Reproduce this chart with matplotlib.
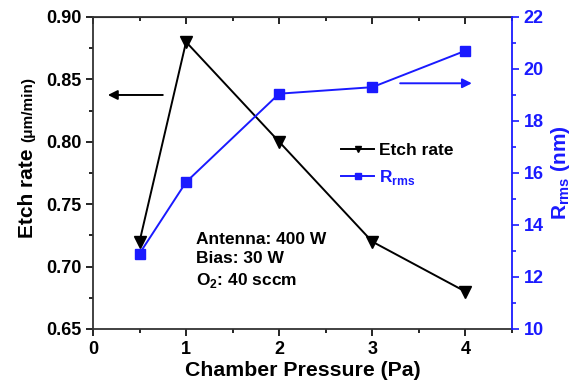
import numpy as np
import matplotlib
matplotlib.use('Agg')
import matplotlib.pyplot as plt
from matplotlib.ticker import MultipleLocator

plt.rcParams['font.family'] = ['Liberation Sans', 'DejaVu Sans']
plt.rcParams['font.weight'] = 'bold'
plt.rcParams['mathtext.fontset'] = 'custom'
plt.rcParams['mathtext.rm'] = 'Liberation Sans:bold'
plt.rcParams['mathtext.bf'] = 'Liberation Sans:bold'

# data
pressure = [0.5, 1, 2, 3, 4]
etch_rate = [0.72, 0.88, 0.80, 0.72, 0.68]
r_rms = [12.9, 15.65, 19.05, 19.3, 20.7]

blue = '#1a1aff'

fig = plt.figure(figsize=(5.83, 3.86), dpi=100)
ax = fig.add_axes([0.1595, 0.1477, 0.7185, 0.8083])
ax2 = ax.twinx()

l1, = ax.plot(pressure, etch_rate, '-', color='black', lw=1.4,
              marker='v', ms=8, label='Etch rate')
l2, = ax2.plot(pressure, r_rms, '-', color=blue, lw=1.4,
               marker='s', ms=6.5, label=r'R$_{\rm rms}$')

ax.set_xlim(0, 4.5)
ax.set_ylim(0.65, 0.90)
ax2.set_ylim(10, 22)

ax.xaxis.set_major_locator(MultipleLocator(1))
ax.xaxis.set_minor_locator(MultipleLocator(0.5))
ax.yaxis.set_major_locator(MultipleLocator(0.05))
ax.yaxis.set_minor_locator(MultipleLocator(0.025))
ax2.yaxis.set_major_locator(MultipleLocator(2))
ax2.yaxis.set_minor_locator(MultipleLocator(1))
ax.yaxis.set_major_formatter(matplotlib.ticker.FormatStrFormatter('%.2f'))

ax.tick_params(axis='x', which='both', direction='out', top=False, labelsize=13, width=1.2)
ax.tick_params(axis='x', which='major', length=5)
ax.tick_params(axis='x', which='minor', length=3)
ax.tick_params(axis='y', which='both', direction='out', labelsize=13, width=1.2)
ax.tick_params(axis='y', which='major', length=5)
ax.tick_params(axis='y', which='minor', length=3)
ax2.tick_params(axis='y', which='both', direction='out', colors=blue, labelsize=13, width=1.2)
ax2.tick_params(axis='y', which='major', length=5)
ax2.tick_params(axis='y', which='minor', length=3)

# top spine ticks pointing inward
sec = ax.secondary_xaxis('top')
sec.xaxis.set_major_locator(MultipleLocator(1))
sec.xaxis.set_minor_locator(MultipleLocator(0.5))
sec.tick_params(which='both', direction='in', labeltop=False, width=1.2)
sec.tick_params(which='major', length=5)
sec.tick_params(which='minor', length=3)

for s in ['left', 'bottom', 'top']:
    ax.spines[s].set_linewidth(1.3)
    ax.spines[s].set_color('#333333')
ax2.spines['right'].set_color(blue)
ax2.spines['right'].set_linewidth(1.3)
ax2.spines['left'].set_visible(False)
ax2.spines['top'].set_visible(False)
ax2.spines['bottom'].set_visible(False)
ax.spines['right'].set_visible(False)

ax.set_xlabel('Chamber Pressure (Pa)', fontsize=15.3, fontweight='bold', labelpad=2)
# left label: unit part is smaller
ax.text(-0.143, 0.292, 'Etch rate', transform=ax.transAxes, rotation=90,
        rotation_mode='anchor', ha='left', va='baseline', fontsize=15, fontweight='bold')
ax.text(-0.146, 0.598, '(\u03bcm/min)', transform=ax.transAxes, rotation=90,
        rotation_mode='anchor', ha='left', va='baseline', fontsize=11, fontweight='bold')
ax2.set_ylabel(r'R$_{\rm rms}$ (nm)', fontsize=15, fontweight='bold', color=blue, labelpad=4)

# direction arrows
ax.annotate('', xy=(0.13, 0.8375), xytext=(0.78, 0.8375),
            arrowprops=dict(arrowstyle='-|>', color='black', lw=1.4, mutation_scale=14))
ax2.annotate('', xy=(4.1, 19.45), xytext=(3.27, 19.45),
             arrowprops=dict(arrowstyle='-|>', color=blue, lw=1.4, mutation_scale=14))

ax.text(0.246, 0.218, 'Antenna: 400 W\nBias: 30 W\nO$_2$: 40 sccm', transform=ax.transAxes,
        fontsize=12.5, fontweight='bold', va='center', ha='left', linespacing=1.35)

leg = ax.legend([l1, l2], ['Etch rate', r'R$_{\rm rms}$'], loc='center left',
                bbox_to_anchor=(0.555, 0.525), frameon=False, fontsize=12.5,
                handlelength=1.9, markerscale=0.6, labelspacing=0.6, handletextpad=0.3)
leg.get_texts()[1].set_color(blue)

fig.savefig('out.png', dpi=100)
